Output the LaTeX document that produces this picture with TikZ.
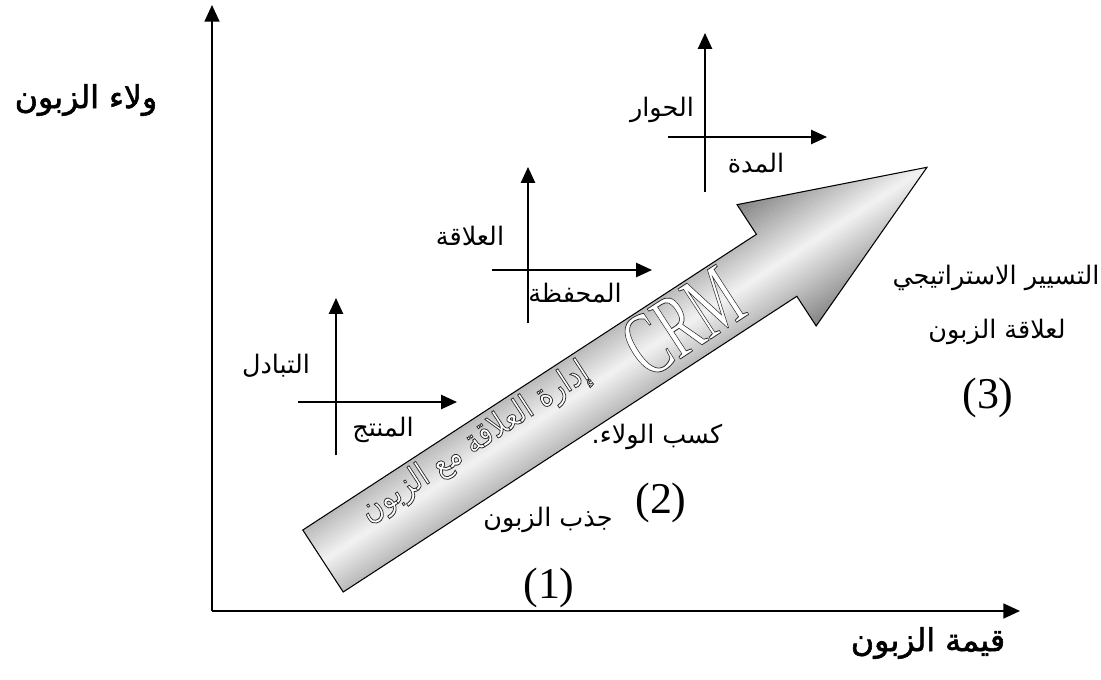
\documentclass[tikz,border=0pt]{standalone}
\usepackage{fontspec}
\setmainfont{Liberation Serif}
\newfontfamily\ar[Script=Arabic]{DejaVu Sans}
\newfontfamily\arbold[Script=Arabic,FakeBold=1.8]{DejaVu Sans}
\TeXXeTstate=1
\usetikzlibrary{arrows.meta}
\newcommand\outlinetext[1]{{\color{white}\special{pdf:literal direct 2 Tr 0.45 w 0.15 0.15 0.15 RG}#1\special{pdf:literal direct 0 Tr}}}
\begin{document}
\begin{tikzpicture}[x=0.02cm,y=-0.02cm,
  axisline/.style={line width=1.1pt, -{Triangle[length=9.5pt,width=8.5pt]}},
  crossline/.style={line width=1.1pt, -{Triangle[length=9pt,width=8pt]}},
  arlbl/.style={inner sep=0pt, font=\ar\fontsize{14.5}{17}\selectfont},
  axlbl/.style={inner sep=0pt, font=\arbold\fontsize{18}{21}\selectfont},
  numlbl/.style={inner sep=0pt, font=\fontsize{25}{29}\selectfont},
]
\useasboundingbox[fill=white] (0,0) rectangle (1101,679);

% main axes
\coordinate (O) at (212,611);
\coordinate (Ytop) at (212,5);
\coordinate (Xend) at (1020,611);
\draw[axisline] (O) -- (Ytop);
\draw[axisline] (O) -- (Xend);

% small crosses
\coordinate (c1b) at (336,455); \coordinate (c1t) at (336,298);
\coordinate (c1l) at (298,402); \coordinate (c1r) at (457,402);
\coordinate (c2b) at (528,323); \coordinate (c2t) at (528,167);
\coordinate (c2l) at (492,270); \coordinate (c2r) at (652,270);
\coordinate (c3b) at (705,192); \coordinate (c3t) at (705,33);
\coordinate (c3l) at (668,137); \coordinate (c3r) at (827,137);
\foreach \c in {c1,c2,c3}{
  \draw[crossline] (\c b) -- (\c t);
  \draw[crossline] (\c l) -- (\c r);
}

% big arrow
\begin{scope}[transform canvas={shift={(323,561)},rotate=33.1}]
  \begin{scope}
    \clip (0,-37) -- (541.5,-37) -- (541.5,-72.4) -- (721,0) -- (541.5,72.4) -- (541.5,37) -- (0,37) -- cycle;
    \foreach \i in {-24,...,23}{
      \pgfmathsetmacro\p{5+44*abs(\i+0.5)/24}
      \fill[black!\p!white] (-5,\i*3.017) rectangle (730,\i*3.017+3.2);
    }
  \end{scope}
  \draw[black, line width=0.6pt, line join=miter]
    (0,-37) -- (541.5,-37) -- (541.5,-72.4) -- (721,0) -- (541.5,72.4) -- (541.5,37) -- (0,37) -- cycle;
  \node[inner sep=0pt, xscale=0.6, font=\fontsize{52}{56}\selectfont] (crm) at (432,-4) {\outlinetext{CRM}};
  \node[inner sep=0pt, xscale=0.85, font=\ar\fontsize{19}{22}\selectfont] (crmar) at (192,-16) {\outlinetext{\beginR إدارة العلاقة مع الزبون\endR}};
\end{scope}

% labels
\node[axlbl] (ylab) at (86,100) {\beginR ولاء الزبون\endR};
\node[axlbl] (xlab) at (928,643) {\beginR قيمة الزبون\endR};
\node[arlbl] (t1) at (996,278) {\beginR التسيير الاستراتيجي\endR};
\node[arlbl] (t2) at (997,332) {\beginR لعلاقة الزبون\endR};
\node[numlbl] (n3) at (988,398) {(3)};
\node[numlbl] (n1) at (549,588) {(1)};
\node[numlbl] (n2) at (661,503) {(2)};
\node[arlbl] (jd) at (548,520) {\beginR جذب الزبون\endR};
\node[arlbl] (ks) at (657,437) {\beginR كسب الولاء.\endR};
\node[arlbl] (l2a) at (470,236) {\beginR العلاقة\endR};
\node[arlbl] (l2b) at (575,293) {\beginR المحفظة\endR};
\node[arlbl] (l1a) at (276,366) {\beginR التبادل\endR};
\node[arlbl] (l1b) at (383,430) {\beginR المنتج\endR};
\node[arlbl] (l3a) at (662,110) {\beginR الحوار\endR};
\node[arlbl] (l3b) at (756,163) {\beginR المدة\endR};
\end{tikzpicture}
\end{document}
